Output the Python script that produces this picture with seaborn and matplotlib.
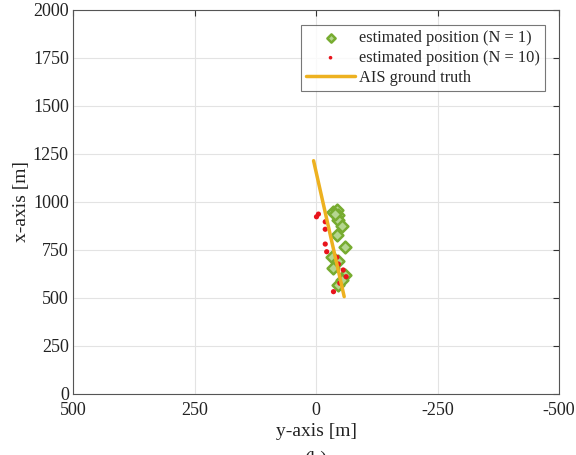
import matplotlib
matplotlib.use("Agg")
import matplotlib.pyplot as plt
import seaborn as sns
import numpy as np
import pandas as pd

sns.set_theme(style="whitegrid")
plt.rcParams['font.family'] = ['Liberation Serif', 'DejaVu Serif']
plt.rcParams['mathtext.fontset'] = 'stix'

# estimated position (N = 1)
n1_y = [-36, -43, -46, -46, -53, -43, -60, -32, -46, -36, -60, -46, -53, -40]
n1_x = [949, 958, 932, 906, 875, 828, 767, 715, 694, 655, 620, 568, 594, 940]
# estimated position (N = 10)
n10_y = [-5, -1, -19, -19, -19, -22, -43, -46, -56, -62, -49, -36]
n10_x = [937, 923, 897, 858, 781, 741, 712, 677, 646, 611, 577, 533]
# AIS ground truth
gt_y = [5, -58]
gt_x = [1215, 507]

xticks = [500, 250, 0, -250, -500]
yticks = [0, 250, 500, 750, 1000, 1250, 1500, 1750, 2000]

fig = plt.figure(figsize=(5.76, 4.55), dpi=100)
ax = fig.add_axes([73/576, 1 - 394/455, 486/576, 384/455])

df1 = pd.DataFrame({"y": n1_y, "x": n1_x})
df10 = pd.DataFrame({"y": n10_y, "x": n10_x})
dgt = pd.DataFrame({"y": gt_y, "x": gt_x})

sns.scatterplot(data=df1, x="y", y="x", ax=ax, marker="D", s=36,
                facecolor="#b5d690", edgecolor="#77AC30", linewidth=1.8,
                label="estimated position (N = 1)", zorder=3)
sns.scatterplot(data=df10, x="y", y="x", ax=ax, marker="o", s=14,
                color="#e8141c", edgecolor="none",
                label="estimated position (N = 10)", zorder=4)
sns.lineplot(data=dgt, x="y", y="x", ax=ax, color="#EDB120", linewidth=2.5,
             label="AIS ground truth", zorder=5, sort=False)

ax.set_xlim(500, -500)
ax.set_ylim(0, 2000)
ax.set_xticks(xticks)
ax.set_yticks(yticks)
ax.set_xticklabels([str(t) for t in xticks])
ax.set_yticklabels([str(t) for t in yticks])
ax.tick_params(direction="in", length=4, width=0.8, colors="#333333",
               labelsize=13, top=True, right=True)
ax.tick_params(axis="x", pad=6)
ax.tick_params(axis="y", pad=3)
for lab in ax.get_xticklabels() + ax.get_yticklabels():
    lab.set_color("#222222")
ax.grid(True, color="#e3e3e3", linewidth=0.8)
for sp in ax.spines.values():
    sp.set_color("#555555")
    sp.set_linewidth(0.8)
ax.set_facecolor("white")
ax.set_xlabel("y-axis [m]", fontsize=14, color="#222222", labelpad=3)
ax.set_ylabel("x-axis [m]", fontsize=14, color="#222222", labelpad=2)

leg = ax.legend(loc="upper right", bbox_to_anchor=(545/576, 1 - 25/455),
                bbox_transform=fig.transFigure, fontsize=11.8, frameon=True,
                fancybox=False, borderpad=0.3, labelspacing=0.25,
                handlelength=3.0, handletextpad=0.25, borderaxespad=0,
                markerscale=0.7)
leg.get_frame().set_edgecolor("#555555")
leg.get_frame().set_linewidth(0.8)

fig.text(316/576, 1 - 459/455, "(b)", ha="center", va="center", fontsize=14,
         color="#222222")

fig.savefig("out.png", dpi=100)
